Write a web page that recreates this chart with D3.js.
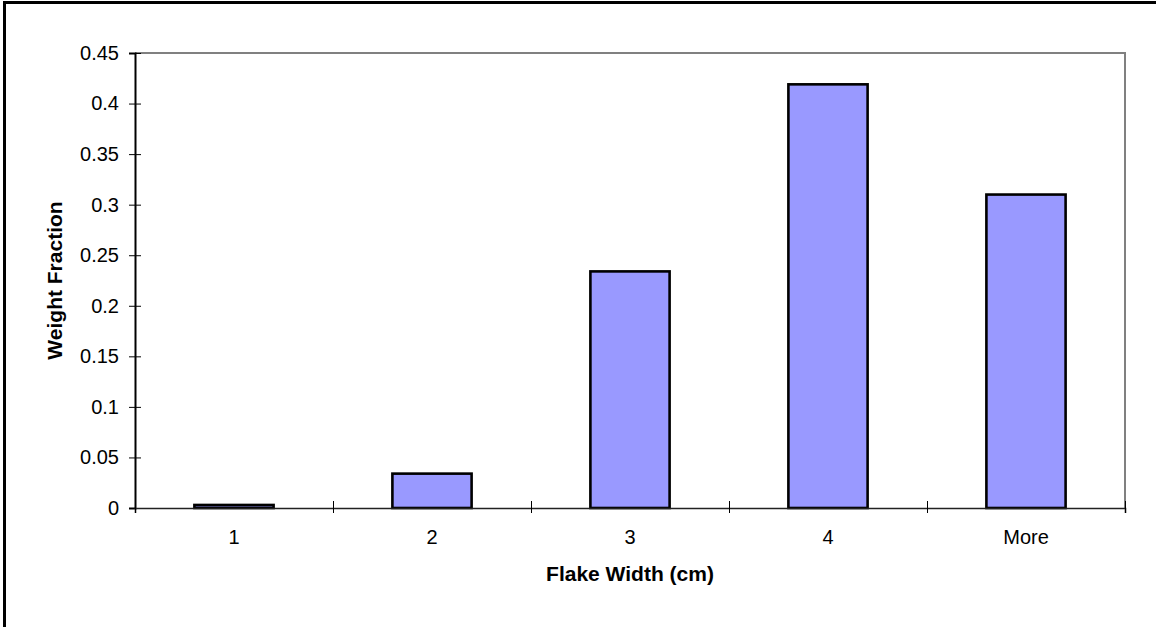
<!DOCTYPE html>
<html>
<head>
<meta charset="utf-8">
<script src="https://cdn.jsdelivr.net/npm/d3@7"></script>
<style>
  html, body { margin: 0; padding: 0; background: #fff; }
  svg { display: block; font-family: "Liberation Sans", Arial, sans-serif; }
</style>
</head>
<body>
<svg id="chart" width="1156" height="627"></svg>
<script>
// Histogram of flake widths, expressed as weight fraction per bin
const categories = ["1", "2", "3", "4", "More"];
const weightFraction = [0.003, 0.034, 0.234, 0.419, 0.31];
const yTicks = [0, 0.05, 0.1, 0.15, 0.2, 0.25, 0.3, 0.35, 0.4, 0.45];
const xTitle = "Flake Width (cm)";
const yTitle = "Weight Fraction";

const svg = d3.select("#chart");
const plot = { left: 135, right: 1125, top: 53, bottom: 508 };

// chart frame
svg.append("rect")
  .attr("x", 4.5).attr("y", 2.5)
  .attr("width", 1160).attr("height", 640)
  .attr("fill", "#fff").attr("stroke", "#000").attr("stroke-width", 3);

const x = d3.scaleBand()
  .domain(categories)
  .range([plot.left, plot.right])
  .paddingInner(0.6)
  .paddingOuter(0.3);

// bin boundaries for the category tick marks
const xEdges = d3.scaleLinear().domain([0, categories.length]).range([plot.left, plot.right]);

const y = d3.scaleLinear().domain([0, 0.45]).range([plot.bottom, plot.top]);

// plot area outline on top and right
svg.append("path")
  .attr("d", `M${plot.left},${plot.top}H${plot.right}V${plot.bottom}`)
  .attr("fill", "none").attr("stroke", "#808080").attr("stroke-width", 2);

// bars
svg.append("g").selectAll("rect")
  .data(categories.map((c, i) => ({ c, v: weightFraction[i] })))
  .join("rect")
  .attr("x", d => x(d.c))
  .attr("y", d => y(d.v))
  .attr("width", x.bandwidth())
  .attr("height", d => y(0) - y(d.v))
  .attr("fill", "#9999ff")
  .attr("stroke", "#000")
  .attr("stroke-width", 2.6);

// y axis
const yAxis = svg.append("g")
  .attr("transform", `translate(${plot.left},0)`)
  .call(d3.axisLeft(y).tickValues(yTicks).tickFormat(d => String(d)).tickSize(6).tickPadding(10));
yAxis.select(".domain").attr("stroke", "#000").attr("stroke-width", 2);
yAxis.selectAll(".tick line").attr("x1", -6).attr("x2", 6).attr("stroke", "#000");
yAxis.selectAll(".tick text")
  .attr("font-size", 20).attr("fill", "#000")
  .attr("font-family", "'Liberation Sans', Arial, sans-serif");

// x axis: boundary ticks
const xTickAxis = svg.append("g")
  .attr("transform", `translate(0,${plot.bottom})`)
  .call(d3.axisBottom(xEdges).tickValues(d3.range(categories.length + 1)).tickFormat("").tickSize(5));
xTickAxis.select(".domain").attr("stroke", "#222").attr("stroke-width", 1.6);
xTickAxis.selectAll(".tick line").attr("y1", -7).attr("y2", 5).attr("stroke", "#000");

// x axis: category labels
const xLabelAxis = svg.append("g")
  .attr("transform", `translate(0,${plot.bottom})`)
  .call(d3.axisBottom(x).tickSize(0).tickPadding(22));
xLabelAxis.select(".domain").remove();
xLabelAxis.selectAll(".tick text")
  .attr("font-size", 20).attr("fill", "#000")
  .attr("font-family", "'Liberation Sans', Arial, sans-serif");

// axis titles
svg.append("text")
  .attr("x", (plot.left + plot.right) / 2)
  .attr("y", 581)
  .attr("text-anchor", "middle")
  .attr("font-size", 21).attr("font-weight", "bold")
  .text(xTitle);

svg.append("text")
  .attr("transform", `translate(62,${(plot.top + plot.bottom) / 2}) rotate(-90)`)
  .attr("text-anchor", "middle")
  .attr("font-size", 21).attr("font-weight", "bold")
  .text(yTitle);
</script>
</body>
</html>
